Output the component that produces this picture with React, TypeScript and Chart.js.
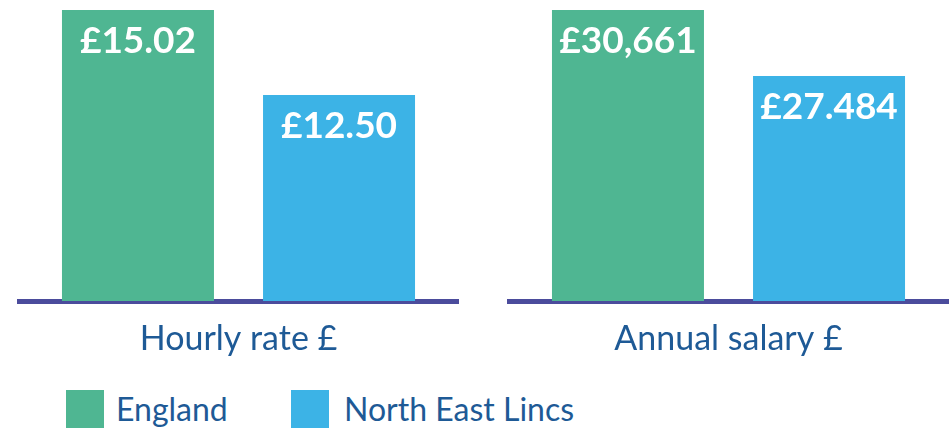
import React, { useEffect, useRef } from "react";
import { Chart, registerables } from "chart.js";

Chart.register(...registerables);

const seriesNames = ["England", "North East Lincs"];
const seriesColors = ["#4fb692", "#3cb3e6"];
const hourlyCategory = ["Hourly rate £"];
const annualCategory = ["Annual salary £"];
const hourlyValues = [15.02, 12.5];
const annualValues = [30661, 27484];
const hourlyLabels = ["£15.02", "£12.50"];
const annualLabels = ["£30,661", "£27.484"];

const TEXT_COLOR = "#1e5a96";
const AXIS_COLOR = "#4b4c9c";
const FONT = "Lato, 'Open Sans', sans-serif";

const valueLabelPlugin = {
  id: "valueLabels",
  afterDatasetsDraw(chart: any, _args: any, opts: any) {
    const ctx = chart.ctx;
    const labels: string[] = opts.labels || [];
    ctx.save();
    ctx.fillStyle = "#ffffff";
    ctx.font = `bold 37px ${FONT}`;
    ctx.textAlign = "center";
    ctx.textBaseline = "alphabetic";
    chart.data.datasets.forEach((_ds: any, i: number) => {
      const meta = chart.getDatasetMeta(i);
      meta.data.forEach((el: any) => {
        ctx.fillText(labels[i], el.x, el.y + 43);
      });
    });
    ctx.restore();
  },
};

function BarPanel(props: {
  category: string[];
  values: number[];
  labels: string[];
  yMin: number;
  yMax: number;
  padLeft: number;
  padRight: number;
}) {
  const ref = useRef<HTMLCanvasElement | null>(null);
  useEffect(() => {
    if (!ref.current) return;
    const chart = new Chart(ref.current, {
      type: "bar",
      data: {
        labels: props.category,
        datasets: seriesNames.map((name, i) => ({
          label: name,
          data: [props.values[i]],
          backgroundColor: seriesColors[i],
          borderWidth: 0,
          categoryPercentage: 0.916,
          barPercentage: 0.756,
        })),
      },
      options: {
        animation: false,
        responsive: true,
        maintainAspectRatio: false,
        layout: {
          padding: { left: props.padLeft, right: props.padRight, top: 10, bottom: 0 },
        },
        plugins: {
          legend: { display: false },
          tooltip: { enabled: false },
          valueLabels: { labels: props.labels },
        } as any,
        scales: {
          x: {
            z: 1,
            grid: { display: false, drawTicks: false },
            border: { display: true, width: 5, color: AXIS_COLOR },
            ticks: {
              color: TEXT_COLOR,
              font: { family: FONT, size: 34 },
              padding: 18,
            },
            afterFit: (s: any) => {
              s.height = 69;
            },
          },
          y: {
            display: false,
            min: props.yMin,
            max: props.yMax,
          },
        },
      },
      plugins: [valueLabelPlugin],
    });
    return () => chart.destroy();
  }, []);
  return <canvas ref={ref} />;
}

export default function App() {
  return (
    <div
      style={{
        position: "absolute",
        left: 0,
        top: 0,
        width: 950,
        height: 430,
        background: "#ffffff",
        fontFamily: FONT,
      }}
    >
      <div style={{ position: "absolute", left: 0, top: 0, width: 475, height: 370 }}>
        <BarPanel
          category={hourlyCategory}
          values={hourlyValues}
          labels={hourlyLabels}
          yMin={6.385}
          yMax={15.02}
          padLeft={19}
          padRight={17}
        />
      </div>
      <div style={{ position: "absolute", left: 475, top: 0, width: 475, height: 370 }}>
        <BarPanel
          category={annualCategory}
          values={annualValues}
          labels={annualLabels}
          yMin={16637}
          yMax={30661}
          padLeft={34}
          padRight={2}
        />
      </div>
      {seriesNames.map((name, i) => (
        <React.Fragment key={name}>
          <div
            style={{
              position: "absolute",
              left: i === 0 ? 66 : 291,
              top: 390,
              width: 38,
              height: 38,
              background: seriesColors[i],
            }}
          />
          <div
            style={{
              position: "absolute",
              left: i === 0 ? 116 : 344,
              top: 390,
              height: 38,
              lineHeight: "38px",
              fontSize: 32,
              color: TEXT_COLOR,
              whiteSpace: "nowrap",
            }}
          >
            {name}
          </div>
        </React.Fragment>
      ))}
    </div>
  );
}
